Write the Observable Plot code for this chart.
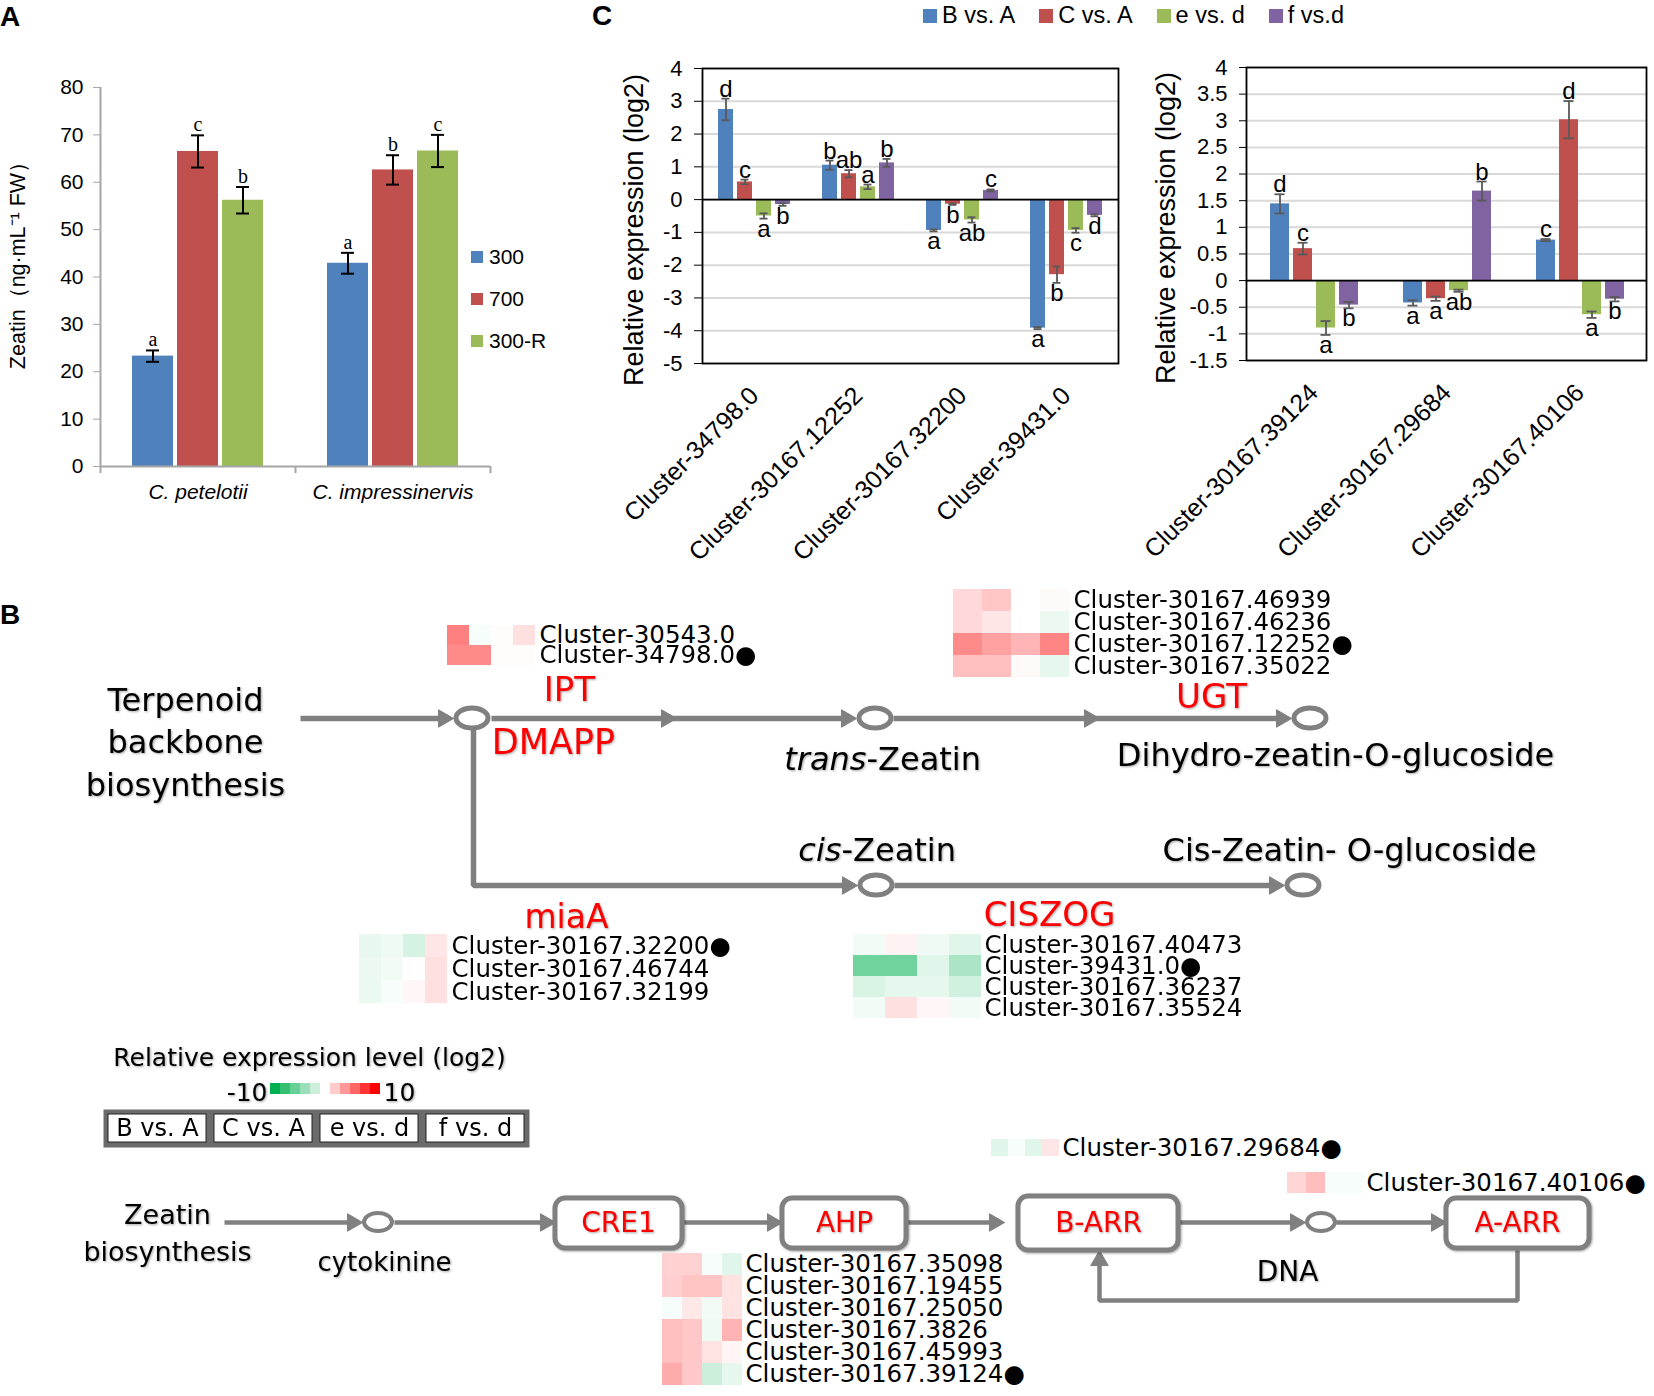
<!DOCTYPE html>
<html><head><meta charset="utf-8">
<script src="https://cdn.jsdelivr.net/npm/d3@7"></script>
<script src="https://cdn.jsdelivr.net/npm/@observablehq/plot@0.6"></script>
<style>
body{margin:0;background:#fff;}
#fig{position:relative;width:1654px;height:1396px;overflow:hidden;background:#fff;font-family:"Liberation Sans",Arial,sans-serif;color:#000;}
.abs{position:absolute;line-height:1;}
.abs svg{max-width:none !important;overflow:visible;}
.plab{position:absolute;font-weight:bold;font-size:28px;line-height:1;}
.leg{position:absolute;display:flex;align-items:center;white-space:nowrap;}
.sw{display:inline-block;}
</style></head><body><div id="fig"></div>
<script>
// ---------------- Panel A data ----------------
const speciesA = ["C. petelotii", "C. impressinervis"];
const treatmentsA = ["300", "700", "300-R"];
const zeatinPet = [23.3, 66.5, 56.2];
const zeatinPetErr = [1.2, 3.4, 2.8];
const zeatinPetSig = ["a", "c", "b"];
const zeatinImp = [42.9, 62.6, 66.6];
const zeatinImpErr = [2.2, 3.1, 3.4];
const zeatinImpSig = ["a", "b", "c"];
const colorsA = ["#4F81BD", "#C0504D", "#9BBB59"];
const yTicksA = [0, 10, 20, 30, 40, 50, 60, 70, 80];

// ---------------- Panel C data ----------------
const comparisons = ["B vs. A", "C vs. A", "e vs. d", "f vs.d"];
const colorsC = ["#4F81BD", "#C0504D", "#9BBB59", "#8064A2"];
const clustersC1 = ["Cluster-34798.0", "Cluster-30167.12252", "Cluster-30167.32200", "Cluster-39431.0"];
const c1Values = [[2.75, 0.54, -0.50, -0.15], [1.05, 0.79, 0.39, 1.12], [-0.94, -0.14, -0.62, 0.28], [-3.92, -2.29, -0.94, -0.48]];
const c1Err = [[0.33, 0.07, 0.08, 0.04], [0.14, 0.11, 0.07, 0.12], [0.03, 0.02, 0.08, 0.03], [0.03, 0.25, 0.07, 0.03]];
const c1Sig = [["d", "c", "a", "b"], ["b", "ab", "a", "b"], ["a", "b", "ab", "c"], ["a", "b", "c", "d"]];
const yTicksC1 = [-5, -4, -3, -2, -1, 0, 1, 2, 3, 4];
const clustersC2 = ["Cluster-30167.39124", "Cluster-30167.29684", "Cluster-30167.40106"];
const c2Values = [[1.44, 0.60, -0.89, -0.46], [-0.42, -0.34, -0.19, 1.68], [0.76, 3.02, -0.64, -0.35]];
const c2Err = [[0.18, 0.11, 0.13, 0.06], [0.05, 0.04, 0.02, 0.18], [0.02, 0.35, 0.06, 0.04]];
const c2Sig = [["d", "c", "a", "b"], ["a", "a", "ab", "b"], ["c", "d", "a", "b"]];
const yTicksC2 = [-1.5, -1, -0.5, 0, 0.5, 1, 1.5, 2, 2.5, 3, 3.5, 4];

// ---------------- Panel B heatmap data (log2 fold change) ----------------
const iptGenes = ["Cluster-30543.0", "Cluster-34798.0"];
const iptExpr = [[5.0, -0.3, 0.1, 1.2], [4.6, 4.6, 0.1, 0.1]];
const ugtGenes = ["Cluster-30167.46939", "Cluster-30167.46236", "Cluster-30167.12252", "Cluster-30167.35022"];
const ugtExpr = [[1.5, 2.2, 0, 0.2], [1.5, 1.0, 0, -0.8], [4.6, 3.7, 2.9, 4.8], [2.5, 2.5, 0.2, -1.0]];
const miaGenes = ["Cluster-30167.32200", "Cluster-30167.46744", "Cluster-30167.32199"];
const miaExpr = [[-0.9, -0.6, -1.6, 1.0], [-0.8, -0.5, 0, 1.2], [-0.8, -0.3, 0.3, 1.2]];
const ciszogGenes = ["Cluster-30167.40473", "Cluster-39431.0", "Cluster-30167.36237", "Cluster-30167.35524"];
const ciszogExpr = [[-0.5, 0.5, -0.6, -1.2], [-5.6, -5.6, -1.2, -3.3], [-1.5, -1.0, -1.0, -1.8], [-0.5, 1.2, 0.3, -0.5]];
const bArrGenes = ["Cluster-30167.29684"];
const bArrExpr = [[-1.2, -0.3, -1.2, 1.0]];
const aArrGenes = ["Cluster-30167.40106"];
const aArrExpr = [[1.6, 2.6, -0.3, -0.3]];
const ahpGenes = ["Cluster-30167.35098", "Cluster-30167.19455", "Cluster-30167.25050", "Cluster-30167.3826", "Cluster-30167.45993", "Cluster-30167.39124"];
const ahpExpr = [[1.8, 1.8, -0.3, -1.2], [1.9, 2.3, 2.3, 1.1], [-0.3, 0.9, -0.5, 1.1], [2.5, 2.2, -0.6, 3.0], [2.5, 2.2, 1.1, 0.4], [3.3, 2.2, -2.0, -1.0]];
const qpcrGenes = ["Cluster-34798.0", "Cluster-30167.12252", "Cluster-30167.32200", "Cluster-39431.0", "Cluster-30167.29684", "Cluster-30167.40106", "Cluster-30167.39124"];
const legendSteps = [-10, -8, -6, -4, -2, 0, 2, 4, 6, 8, 10];
const legendBoxLabels = ["B vs. A", "C vs. A", "e vs. d", "f vs. d"];

// ---------------- helpers ----------------
const fig = document.getElementById("fig");
const F_SANS = "'Liberation Sans', Arial, sans-serif";
const F_B = "'DejaVu Sans', sans-serif";
const F_SERIF = "'Liberation Serif', 'Times New Roman', serif";
const SHADOW = "drop-shadow(1.5px 1.5px 1.2px rgba(0,0,0,0.35))";
function place(node, left, top) {
  const d = document.createElement("div");
  d.className = "abs"; d.style.left = left + "px"; d.style.top = top + "px";
  d.appendChild(node); fig.appendChild(d); return d;
}
function html(str, left, top, cls) {
  const d = document.createElement("div");
  d.className = cls; d.style.left = left + "px"; d.style.top = top + "px";
  d.innerHTML = str; fig.appendChild(d); return d;
}
const heatColor = {type: "linear", domain: [-10, 0, 10], range: ["#00B050", "#FFFFFF", "#FF0000"], interpolate: "rgb"};
const noBg = {background: "transparent", overflow: "visible"};

// ---------------- Panel A ----------------
const rowsA = [];
[zeatinPet, zeatinImp].forEach((vals, i) => vals.forEach((v, j) => rowsA.push({
  species: speciesA[i], treatment: treatmentsA[j], value: v,
  err: [zeatinPetErr, zeatinImpErr][i][j], sig: [zeatinPetSig, zeatinImpSig][i][j]
})));
const dimA = {width: 530, height: 520, marginLeft: 100, marginRight: 40, marginTop: 87, marginBottom: 54};
const plotA = Plot.plot({
  ...dimA,
  style: {fontFamily: F_SANS, fontSize: "21px", color: "#000", ...noBg},
  fx: {domain: speciesA, padding: 0},
  x: {domain: treatmentsA, paddingInner: 0.1, paddingOuter: 0.7, axis: null},
  y: {domain: [0, 80]},
  color: {domain: treatmentsA, range: colorsA},
  marks: [
    Plot.barY(rowsA, {fx: "species", x: "treatment", y: "value", fill: "treatment"}),
    Plot.ruleX(rowsA, {fx: "species", x: "treatment", y1: d => d.value - d.err, y2: d => d.value + d.err, stroke: "#000", strokeWidth: 2}),
    Plot.tickY(rowsA, {fx: "species", x: "treatment", y: d => d.value - d.err, stroke: "#000", strokeWidth: 2, insetLeft: 14, insetRight: 14}),
    Plot.tickY(rowsA, {fx: "species", x: "treatment", y: d => d.value + d.err, stroke: "#000", strokeWidth: 2, insetLeft: 14, insetRight: 14}),
    Plot.text(rowsA, {fx: "species", x: "treatment", y: d => d.value + d.err, text: "sig", lineAnchor: "bottom", dy: -4, fontFamily: F_SERIF, fontSize: 20}),
    Plot.ruleY([0], {stroke: "#A6A6A6", strokeWidth: 2}),
    Plot.axisY({ticks: yTicksA, tickSize: 7, tickPadding: 10, stroke: "#A6A6A6", fill: "#000", fontSize: 21, label: null}),
    Plot.axisFx({anchor: "bottom", tickSize: 0, tickPadding: 18, fontStyle: "italic", fontSize: 21, label: null})
  ]
});
place(plotA, 0, 0);
const overlayA = Plot.plot({
  ...dimA,
  style: {fontFamily: F_SANS, color: "#000", ...noBg},
  x: {domain: [0, speciesA.length], axis: null},
  y: {domain: [0, 80], axis: null},
  marks: [
    Plot.ruleX([0], {stroke: "#A6A6A6", strokeWidth: 2}),
    Plot.ruleX(d3.range(speciesA.length + 1), {y1: 0, y2: -1.5, stroke: "#A6A6A6", strokeWidth: 2}),
    Plot.text(["Zeatin（ng·mL⁻¹ FW）"], {frameAnchor: "left", textAnchor: "middle", rotate: -90, dx: -82, dy: -17, fontSize: 21.5})
  ]
});
place(overlayA, 0, 0);
html("A", 0, 3, "plab");
treatmentsA.forEach((t, i) => {
  html(`<span class="sw" style="width:12px;height:12px;background:${colorsA[i]};margin-right:6px"></span><span style="font-size:21px">${t}</span>`,
    471, 245 + i * 42, "leg");
});

// ---------------- Panel C ----------------
function plotC(clusters, values, errs, sigs, yDomain, yTicks, opts, left) {
  const rows = [];
  clusters.forEach((c, i) => comparisons.forEach((k, j) => rows.push({
    cluster: c, comp: k, value: values[i][j], err: errs[i][j], sig: sigs[i][j]})));
  const lo = d => d.value - d.err, hi = d => d.value + d.err;
  const dim = {width: opts.width, height: 570, marginLeft: opts.marginLeft, marginRight: opts.marginRight,
    marginTop: opts.marginTop, marginBottom: 570 - opts.bottom};
  const main = Plot.plot({
    ...dim,
    style: {fontFamily: F_SANS, fontSize: "22px", color: "#000", ...noBg},
    fx: {domain: clusters, padding: 0},
    x: {domain: comparisons, paddingInner: opts.pi, paddingOuter: opts.po, axis: null},
    y: {domain: yDomain},
    color: {domain: comparisons, range: colorsC},
    marks: [
      Plot.gridY(yTicks, {stroke: "#D9D9D9", strokeOpacity: 1, strokeWidth: 2}),
      Plot.barY(rows, {fx: "cluster", x: "comp", y: "value", fill: "comp"}),
      Plot.ruleX(rows, {fx: "cluster", x: "comp", y1: lo, y2: hi, stroke: "#595959", strokeWidth: 1.8}),
      Plot.tickY(rows, {fx: "cluster", x: "comp", y: lo, stroke: "#595959", strokeWidth: 1.8, insetLeft: opts.cap, insetRight: opts.cap}),
      Plot.tickY(rows, {fx: "cluster", x: "comp", y: hi, stroke: "#595959", strokeWidth: 1.8, insetLeft: opts.cap, insetRight: opts.cap}),
      Plot.ruleY([0], {stroke: "#000", strokeWidth: 1.8}),
      Plot.text(rows.filter(d => d.value >= 0), {fx: "cluster", x: "comp", y: hi, text: "sig", lineAnchor: "bottom", dy: -2, fontSize: 24}),
      Plot.text(rows.filter(d => d.value < 0), {fx: "cluster", x: "comp", y: lo, text: "sig", lineAnchor: "top", dy: 1, fontSize: 24}),
      Plot.axisY({ticks: yTicks, tickFormat: d => String(d), tickSize: 8, tickPadding: 12, stroke: "#000", fontSize: 22, label: null}),
      Plot.axisFx({anchor: "bottom", tickRotate: -45, tickSize: 0, tickPadding: 28, fontSize: 25, label: null})
    ]
  });
  place(main, left, 0);
  const overlay = Plot.plot({
    ...dim,
    style: {fontFamily: F_SANS, color: "#000", ...noBg},
    marks: [
      Plot.frame({stroke: "#000", strokeWidth: 1.8}),
      Plot.text(["Relative expression (log2)"], {frameAnchor: "left", textAnchor: "middle", rotate: -90, dx: opts.titleDx, dy: 14, fontSize: 27})
    ]
  });
  place(overlay, left, 0);
}
plotC(clustersC1, c1Values, c1Err, c1Sig, [-5, 4], yTicksC1,
  {width: 540, marginLeft: 122, marginRight: 2, marginTop: 68, bottom: 363, pi: 0.21, po: 0.84, cap: 3.5, titleDx: -68}, 580);
plotC(clustersC2, c2Values, c2Err, c2Sig, [-1.5, 4], yTicksC2,
  {width: 574, marginLeft: 166, marginRight: 8, marginTop: 67, bottom: 360, pi: 0.19, po: 0.925, cap: 4.5, titleDx: -80}, 1080);
html("C", 592, 2, "plab");
const legC = document.createElement("div");
legC.className = "leg"; legC.style.left = "923px"; legC.style.top = "2px"; legC.style.gap = "24px";
legC.innerHTML = comparisons.map((k, i) =>
  `<span style="display:flex;align-items:center"><span class="sw" style="width:14px;height:14px;background:${colorsC[i]};margin-right:5px"></span><span style="font-size:23.5px">${k}</span></span>`).join("");
fig.appendChild(legC);

// ---------------- Panel B : pathway diagram (layout in page pixels) ----------------
const pathLinesTop = [
  ["t0", 300, 718], ["t0", 445, 718],
  ["t1", 491, 718], ["t1", 848, 718],
  ["t2", 893, 718], ["t2", 1283, 718],
  ["c0", 473, 728], ["c0", 473, 885], ["c0", 849, 885],
  ["c1", 894, 885], ["c1", 1276, 885]
].map(([id, x, y]) => ({id, x, y}));
const pathLinesBottom = [
  ["b0", 224, 1222], ["b0", 353, 1222],
  ["b1", 394, 1222], ["b1", 546, 1222],
  ["b2", 682, 1222], ["b2", 773, 1222],
  ["b3", 906, 1222], ["b3", 995, 1222],
  ["b4", 1178, 1222], ["b4", 1296, 1222],
  ["b5", 1336, 1222], ["b5", 1437, 1222],
  ["fb", 1517, 1250], ["fb", 1517, 1300], ["fb", 1099, 1300], ["fb", 1099, 1260]
].map(([id, x, y]) => ({id, x, y}));
const arrowHeads = [
  [443, 718, 90], [666, 718, 90], [846, 718, 90], [1089, 718, 90], [1281, 718, 90],
  [847, 885, 90], [1274, 885, 90],
  [352, 1222, 90], [545, 1222, 90], [772, 1222, 90], [994, 1222, 90], [1295, 1222, 90], [1436, 1222, 90],
  [1099, 1260, 0]
].map(([x, y, rot]) => ({x, y, rot}));
const ellipsesTop = [[472, 718], [875, 718], [1310, 718], [876, 885], [1303, 885]].map(([x, y]) => ({x, y, rx: 16, ry: 10}));
const ellipsesBottom = [[378, 1222], [1321, 1222]].map(([x, y]) => ({x, y, rx: 14, ry: 9}));
const boxes = [
  [555, 682, 1198, 1248], [782, 906, 1198, 1248], [1018, 1178, 1196, 1250], [1446, 1589, 1198, 1248]
].map(([x1, x2, y1, y2]) => ({x1, x2, y1, y2}));
const blackLabels = [
  ["Terpenoid", 185, 700, 32], ["backbone", 185, 742, 32], ["biosynthesis", 185, 785, 32],
  ["Dihydro-zeatin-O-glucoside", 1335, 755, 32], ["Cis-Zeatin- O-glucoside", 1349, 850, 32],
  ["Zeatin", 167, 1215, 27], ["biosynthesis", 167, 1252, 27], ["cytokinine", 384, 1262, 26], ["DNA", 1287, 1272, 28],
  ["Relative expression level (log2)", 309, 1057, 25]
].map(([text, x, y, size]) => ({text, x, y, size}));
const startLabels = [["-Zeatin", 866, 759, 32], ["-Zeatin", 841, 850, 32], ["10", 383, 1092, 25]].map(([text, x, y, size]) => ({text, x, y, size}));
const endLabels = [["-10", 267, 1092, 25]].map(([text, x, y, size]) => ({text, x, y, size}));
const italicLabels = [["trans", 866, 759, 32], ["cis", 841, 850, 32]].map(([text, x, y, size]) => ({text, x, y, size}));
const redLabels = [
  ["IPT", 569, 690, 34], ["DMAPP", 553, 742, 35], ["UGT", 1211, 697, 34], ["miaA", 566, 917, 33], ["CISZOG", 1049, 915, 34],
  ["CRE1", 618, 1223, 28], ["AHP", 844, 1223, 28], ["B-ARR", 1098, 1223, 28], ["A-ARR", 1517, 1223, 28]
].map(([text, x, y, size]) => ({text, x, y, size}));

const GRAY = "#808080";
const pathway = Plot.plot({
  width: 1654, height: 836, marginTop: 0, marginRight: 0, marginBottom: 0, marginLeft: 0,
  x: {domain: [0, 1654], axis: null},
  y: {domain: [1396, 560], axis: null},
  style: {fontFamily: F_B, ...noBg},
  marks: [
    Plot.line(pathLinesTop, {x: "x", y: "y", z: "id", stroke: GRAY, strokeWidth: 5.5, strokeLinejoin: "miter", strokeLinecap: "butt"}),
    Plot.line(pathLinesBottom, {x: "x", y: "y", z: "id", stroke: GRAY, strokeWidth: 4.5, strokeLinejoin: "miter", strokeLinecap: "butt"}),
    Plot.dot(arrowHeads, {x: "x", y: "y", rotate: "rot", symbol: "triangle", r: 6.5, fill: GRAY, stroke: GRAY, strokeWidth: 1}),
    Plot.rect(ellipsesTop, {x1: d => d.x - d.rx, x2: d => d.x + d.rx, y1: d => d.y - d.ry, y2: d => d.y + d.ry, rx: 100, ry: 100, fill: "white", stroke: GRAY, strokeWidth: 5}),
    Plot.rect(ellipsesBottom, {x1: d => d.x - d.rx, x2: d => d.x + d.rx, y1: d => d.y - d.ry, y2: d => d.y + d.ry, rx: 100, ry: 100, fill: "white", stroke: GRAY, strokeWidth: 4}),
    Plot.rect(boxes, {x1: "x1", x2: "x2", y1: "y1", y2: "y2", rx: 10, ry: 10, fill: "white", stroke: GRAY, strokeWidth: 5, imageFilter: SHADOW}),
    Plot.text(blackLabels, {x: "x", y: "y", text: "text", fontSize: "size", fill: "#000", imageFilter: SHADOW}),
    Plot.text(startLabels, {x: "x", y: "y", text: "text", fontSize: "size", textAnchor: "start", fill: "#000", imageFilter: SHADOW}),
    Plot.text(endLabels, {x: "x", y: "y", text: "text", fontSize: "size", textAnchor: "end", fill: "#000", imageFilter: SHADOW}),
    Plot.text(italicLabels, {x: "x", y: "y", text: "text", fontSize: "size", textAnchor: "end", fontStyle: "italic", fill: "#000", imageFilter: SHADOW}),
    Plot.text(redLabels, {x: "x", y: "y", text: "text", fontSize: "size", fill: "#FF0000", imageFilter: SHADOW})
  ]
});
place(pathway, 0, 560);
html("B", 0, 601, "plab");

function heatmap(genes, values, left, top, cellW, cellH) {
  const rows = [];
  genes.forEach((g, i) => comparisons.forEach((k, j) => rows.push({gene: g, comp: k, value: values[i][j]})));
  const p = Plot.plot({
    width: Math.round(cellW * 4) + 300, height: Math.round(cellH * genes.length),
    marginLeft: 0, marginRight: 300, marginTop: 0, marginBottom: 0,
    x: {domain: comparisons, padding: 0, axis: null},
    y: {domain: genes, padding: 0},
    color: heatColor,
    style: {fontFamily: F_B, color: "#000", ...noBg},
    marks: [
      Plot.cell(rows, {x: "comp", y: "gene", fill: "value", inset: 0}),
      Plot.axisY({anchor: "right", tickSize: 0, tickPadding: 3, fontSize: 24.5, label: null,
        tickFormat: d => qpcrGenes.includes(d) ? d + "●" : d})
    ]
  });
  place(p, left, top);
}
heatmap(iptGenes, iptExpr, 446, 625, 22.5, 20);
heatmap(ugtGenes, ugtExpr, 952, 588, 29.5, 22.3);
heatmap(miaGenes, miaExpr, 358, 933, 22.5, 23.3);
heatmap(ciszogGenes, ciszogExpr, 853, 933, 32, 21.3);
heatmap(bArrGenes, bArrExpr, 991, 1139, 17, 17);
heatmap(aArrGenes, aArrExpr, 1286, 1172, 19.3, 21);
heatmap(ahpGenes, ahpExpr, 661, 1253, 20.25, 22);

const legendBar = Plot.plot({
  width: 110, height: 11, margin: 0,
  x: {domain: legendSteps, padding: 0, axis: null},
  color: heatColor,
  style: noBg,
  marks: [Plot.cell(legendSteps, {x: d => d, fill: d => d, inset: 0})]
});
place(legendBar, 270, 1083);

const legendBox = Plot.plot({
  width: 424, height: 36, margin: 0,
  x: {domain: legendBoxLabels, padding: 0, axis: null},
  style: {fontFamily: F_B, ...noBg},
  marks: [
    Plot.frame({fill: "#6b6b6b", stroke: "#6b6b6b", strokeWidth: 2}),
    Plot.cell(legendBoxLabels, {x: d => d, fill: "white", stroke: "#222", strokeWidth: 1, inset: 4}),
    Plot.text(legendBoxLabels, {x: d => d, text: d => d, fontSize: 24, fill: "#000"})
  ]
});
place(legendBox, 104, 1110);
</script></body></html>
